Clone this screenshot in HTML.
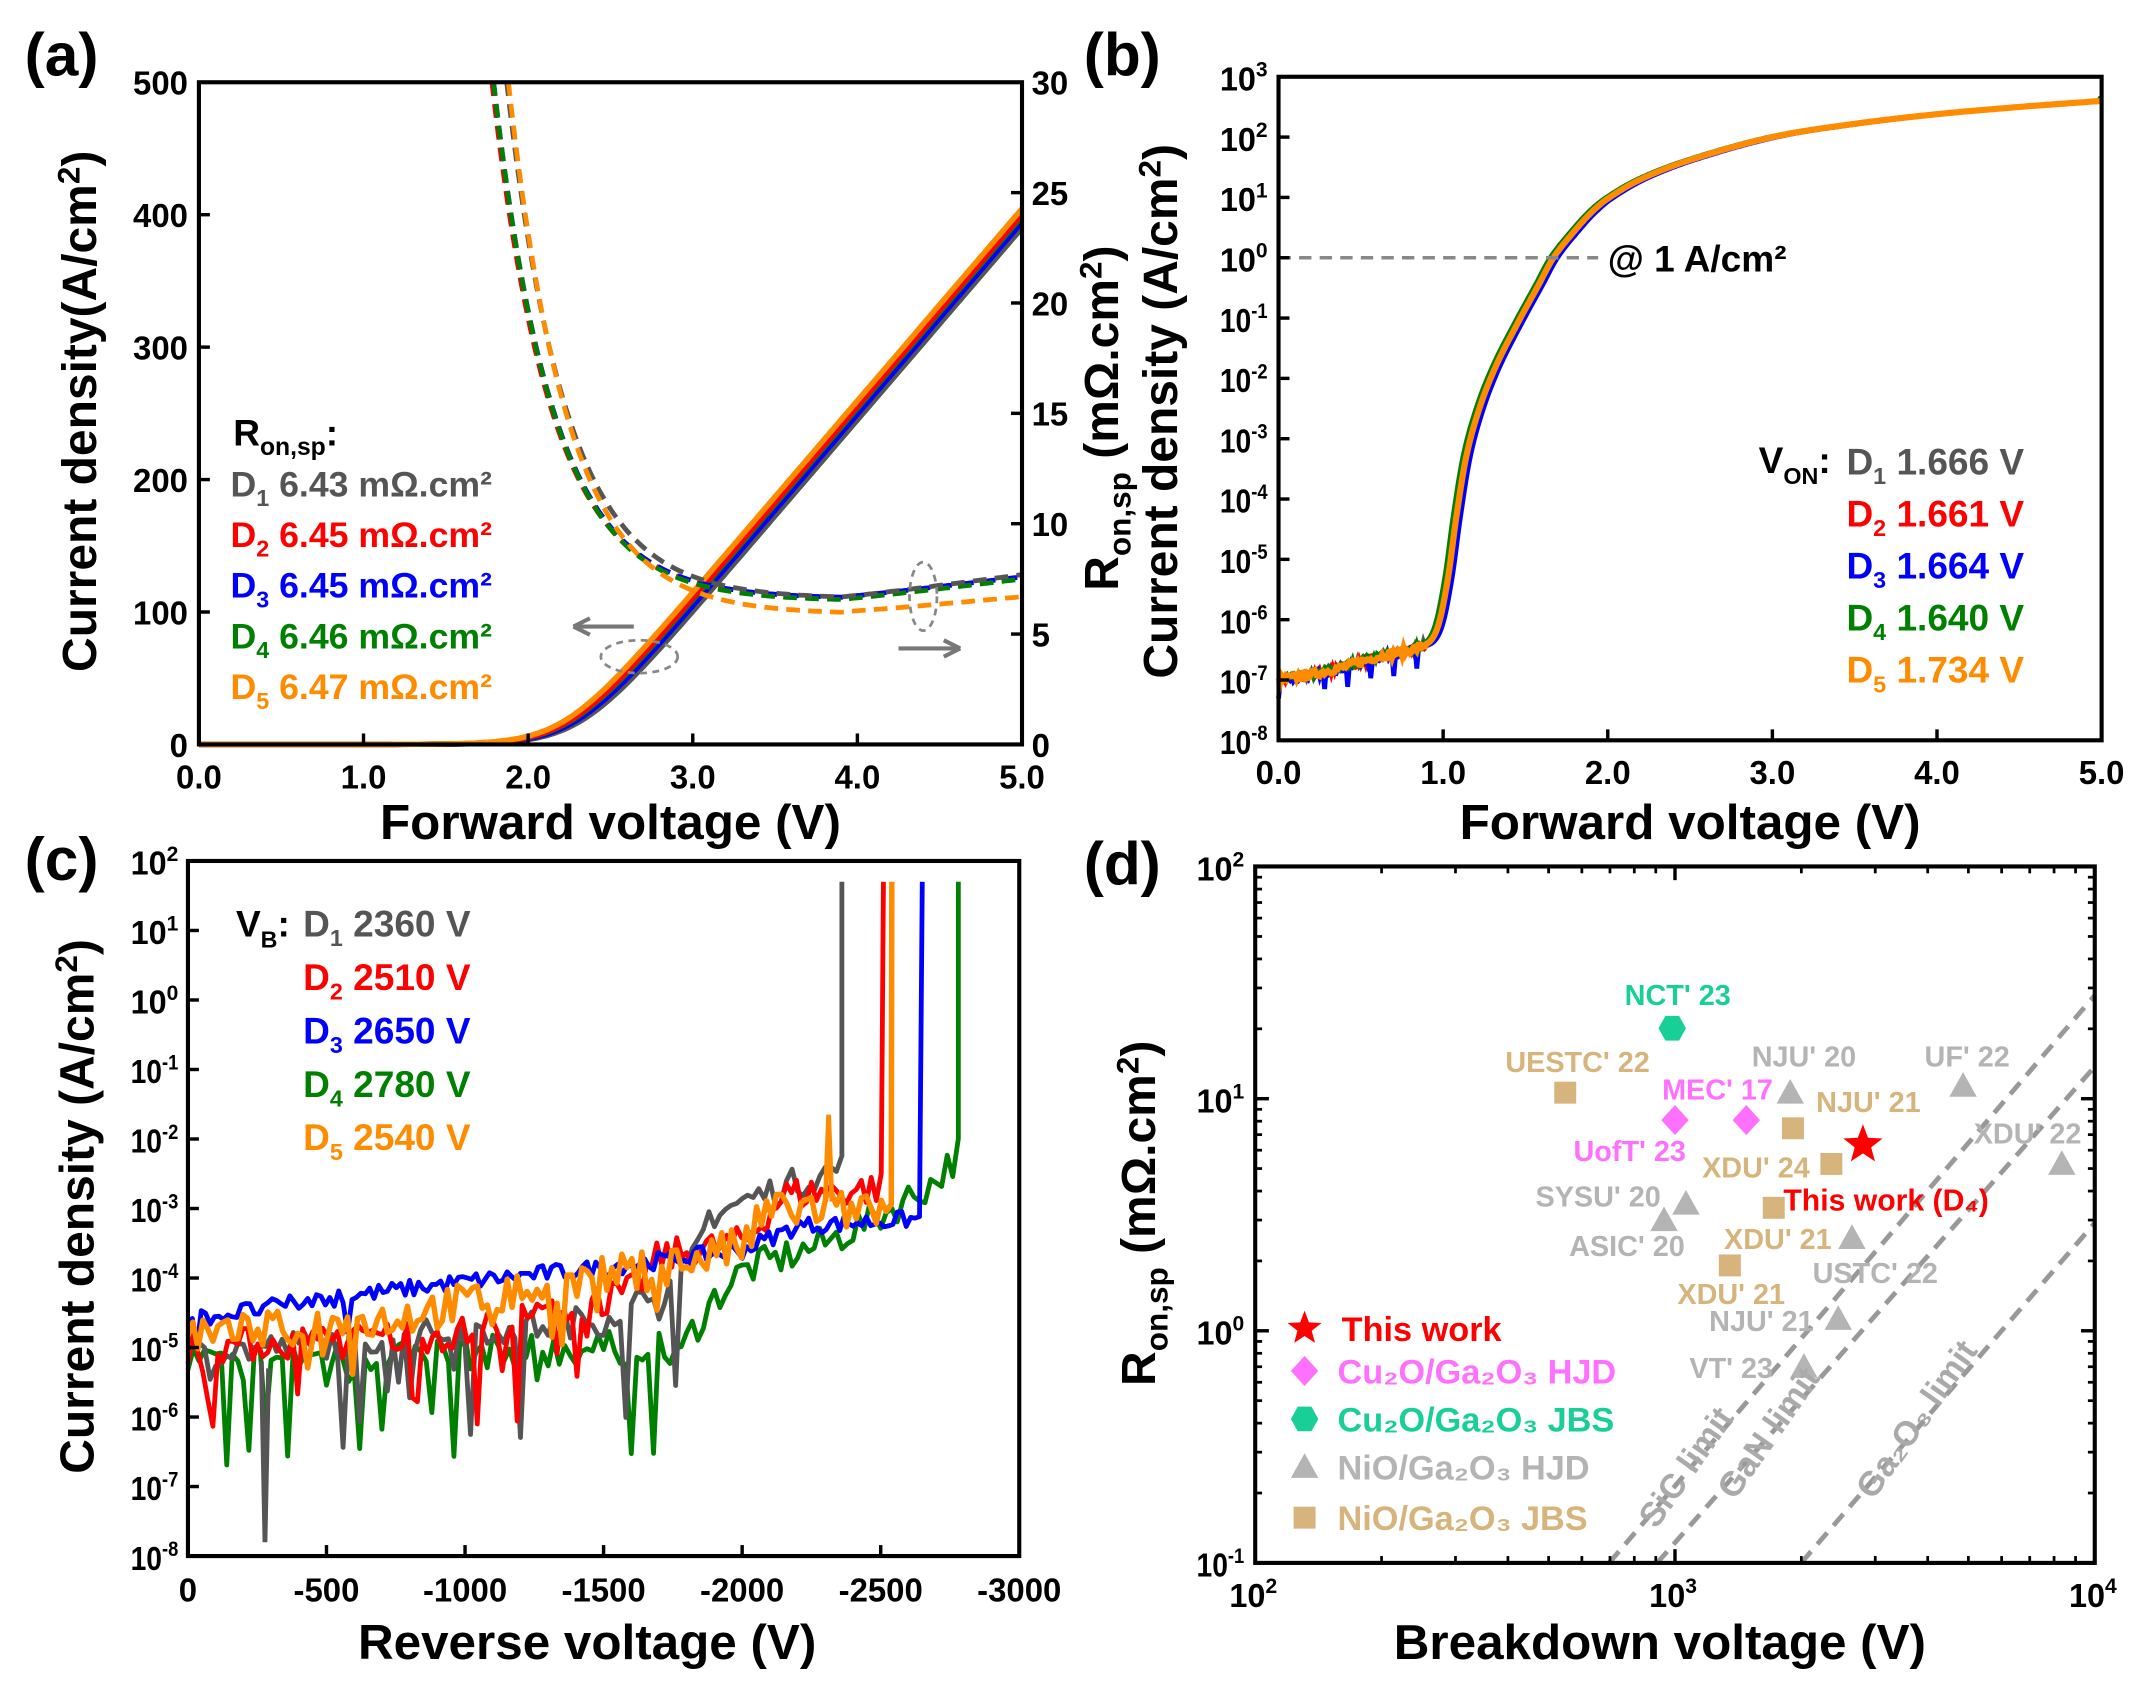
<!DOCTYPE html>
<html><head><meta charset="utf-8"><style>
html,body{margin:0;padding:0;background:#fff}
svg{display:block}
text{font-family:"Liberation Sans",Arial,sans-serif;font-weight:bold}
</style></head><body>
<svg id="s" width="2151" height="1700" viewBox="0 0 1568 1240" preserveAspectRatio="none" xmlns="http://www.w3.org/2000/svg">
<rect width="1568" height="1240" fill="#fff"/>
<g id="g"></g>
</svg>
<script>
const g=document.getElementById('g');
let out='';
function add(s){out+=s;}
const C={gray:'#555555',red:'#ff0000',blue:'#0000ff',green:'#008000',orange:'#ff8c00'};
function pathD(pts){return 'M'+pts.map(p=>p[0].toFixed(1)+','+p[1].toFixed(1)).join('L');}
function txt(x,y,s,sz,fill,anchor,extra){add(`<text x="${x}" y="${y}" font-size="${sz}" fill="${fill||'#000'}" text-anchor="${anchor||'start'}" ${extra||''}>${s}</text>`);}
function pow(b,e,x,y,sz,anchor){add(`<text x="${x}" y="${y}" font-size="${sz}" text-anchor="${anchor||'end'}" textLength="${sz*1.45}" lengthAdjust="spacingAndGlyphs">${b}<tspan dy="-${sz*0.42}" font-size="${sz*0.65}">${e}</tspan></text>`);}
let seed=7;function rnd(){seed=(seed*16807)%2147483647;return seed/2147483647;}

/* ---------- Panel (a) ---------- */
const ax0=145,ax1=745,ay0=60,ay1=543;
const AX=v=>ax0+v*120, AYL=j=>ay1-j*0.966, AYR=r=>ay1-r*16.1;
const solid=[['gray',2.31],['blue',2.28],['green',2.25],['red',2.24],['orange',2.21]];
function sp(x){return Math.log(1+Math.exp(x));}
solid.forEach(([c,v0])=>{let p=[];for(let v=0;v<=5.0001;v+=0.02){let j=145*0.17*sp((v-v0)/0.17);p.push([AX(v),AYL(Math.min(j,500))]);}add(`<path d="${pathD(p)}" fill="none" stroke="${C[c]}" stroke-width="4"/>`);});
const dashed=[['red',1.78,6.6,0],['blue',1.79,6.6,0],['green',1.79,6.5,0],['gray',1.87,6.6,0.1],['orange',1.88,5.9,-0.2]];
dashed.forEach(([c,v0,base,off])=>{let p=[];for(let v=v0;v<=5.0001;v+=0.02){let dv=v-v0;let r=base+(30-base)*Math.exp(-dv/0.36)+0.9*Math.max(0,v-3.9)+off*Math.max(0,v-4);if(r>30)r=30;p.push([AX(v),AYR(r)]);}add(`<path d="${pathD(p)}" fill="none" stroke="${C[c]}" stroke-width="3.5" stroke-dasharray="10,6"/>`);});
add(`<rect x="${ax0}" y="${ay0}" width="600" height="483" fill="none" stroke="#000" stroke-width="3"/>`);
for(let i=0;i<=5;i++){let x=AX(i);add(`<line x1="${x}" y1="${ay1}" x2="${x}" y2="${ay1-8}" stroke="#000" stroke-width="2.5"/>`);txt(x,575,i.toFixed(1),24,'#000','middle');}
for(let i=0;i<=5;i++){let y=AYL(i*100);add(`<line x1="${ax0}" y1="${y}" x2="${ax0+8}" y2="${y}" stroke="#000" stroke-width="2.5"/>`);txt(137,y+9,i*100,24,'#000','end');}
for(let i=0;i<=6;i++){let y=AYR(i*5);add(`<line x1="${ax1}" y1="${y}" x2="${ax1-8}" y2="${y}" stroke="#000" stroke-width="2.5"/>`);txt(752,y+9,i*5,24,'#000','start');}
txt(445,612,'Forward voltage (V)',36,'#000','middle');
add(`<text transform="translate(70,300) rotate(-90)" font-size="35" text-anchor="middle">Current density(A/cm<tspan dy="-12" font-size="23">2</tspan><tspan dy="12">)</tspan></text>`);
add(`<text transform="translate(815,305) rotate(-90)" font-size="35" text-anchor="middle">R<tspan dy="9" font-size="23">on,sp</tspan><tspan dy="-9"> (mΩ.cm</tspan><tspan dy="-12" font-size="23">2</tspan><tspan dy="12">)</tspan></text>`);
add(`<text x="170" y="325" font-size="27">R<tspan dy="7" font-size="18">on,sp</tspan><tspan dy="-7">:</tspan></text>`);
[['gray','1','6.43'],['red','2','6.45'],['blue','3','6.45'],['green','4','6.46'],['orange','5','6.47']].forEach(([c,n,v],i)=>{let y=362+i*37;add(`<text x="168" y="${y}" font-size="26" fill="${C[c]}">D<tspan dy="7" font-size="17">${n}</tspan><tspan dy="-7"> ${v} mΩ.cm²</tspan></text>`);});
add(`<line x1="420" y1="457" x2="462" y2="457" stroke="#777" stroke-width="3"/><path d="M418,457 L430,451 M418,457 L430,463" stroke="#777" stroke-width="3" fill="none"/>`);
add(`<line x1="655" y1="473" x2="698" y2="473" stroke="#777" stroke-width="3"/><path d="M700,473 L688,467 M700,473 L688,479" stroke="#777" stroke-width="3" fill="none"/>`);
add(`<ellipse cx="466" cy="479" rx="28" ry="12" fill="none" stroke="#888" stroke-width="2" stroke-dasharray="5,4"/><ellipse cx="673" cy="435" rx="10" ry="25" fill="none" stroke="#888" stroke-width="2" stroke-dasharray="5,4"/>`);
txt(18,55,'(a)',44);

/* ---------- Panel (b) ---------- */
const bx0=932,bx1=1532,by0=56,by1=540;
const BX=v=>bx0+v*120, BY=l=>by1-(l+8)*44;
const bpts=[[-0.2,-7.1],[0,-7],[0.3,-6.85],[0.6,-6.62],[0.9,-6.4],[0.97,-6.1],[1.03,-5.3],[1.08,-4.3],[1.14,-3.3],[1.22,-2.5],[1.32,-1.8],[1.45,-1.1],[1.58,-0.45],[1.67,0],[1.8,0.45],[1.9,0.75],[2.0,0.98],[2.2,1.3],[2.5,1.62],[3.0,2.0],[3.5,2.22],[4.0,2.38],[4.5,2.5],[5.0,2.6],[5.2,2.64]];
function cr(pts,v){for(let i=1;i<pts.length-2;i++){if(v>=pts[i][0]&&v<=pts[i+1][0]){let p0=pts[i-1],p1=pts[i],p2=pts[i+1],p3=pts[i+2];let h=p2[0]-p1[0],t=(v-p1[0])/h;let m1=(p2[1]-p0[1])/(p2[0]-p0[0])*h,m2=(p3[1]-p1[1])/(p3[0]-p1[0])*h;let t2=t*t,t3=t2*t;return (2*t3-3*t2+1)*p1[1]+(t3-2*t2+t)*m1+(-2*t3+3*t2)*p2[1]+(t3-t2)*m2;}}return pts[pts.length-1][1];}
[['gray',0.0],['red',0.01],['blue',0.025],['green',-0.02],['orange',0.0]].forEach(([c,sh],k)=>{let p=[];for(let v=0;v<=5.0001;v+=0.01){let l=cr(bpts,Math.max(0,v-sh));if(v<0.9){l+=(rnd()-0.5)*0.12;if(c=='blue'&&((v*100|0)%14==0))l-=0.3;}p.push([BX(v),BY(l)]);}add(`<path d="${pathD(p)}" fill="none" stroke="${C[c]}" stroke-width="${c=='orange'?4.5:3.5}"/>`);});
add(`<line x1="${bx0}" y1="${BY(0)}" x2="1165" y2="${BY(0)}" stroke="#888" stroke-width="2.5" stroke-dasharray="9,6"/>`);
add(`<text x="1172" y="198" font-size="27">@ 1 A/cm²</text>`);
add(`<rect x="${bx0}" y="${by0}" width="600" height="484" fill="none" stroke="#000" stroke-width="3"/>`);
for(let i=0;i<=5;i++){let x=BX(i);add(`<line x1="${x}" y1="${by1}" x2="${x}" y2="${by1-8}" stroke="#000" stroke-width="2.5"/>`);txt(x,572,i.toFixed(1),24,'#000','middle');}
for(let e=-8;e<=3;e++){let y=BY(e);add(`<line x1="${bx0}" y1="${y}" x2="${bx0+8}" y2="${y}" stroke="#000" stroke-width="2.5"/>`);pow('10',e,924,y+10,24);}
txt(1232,612,'Forward voltage (V)',36,'#000','middle');
add(`<text transform="translate(858,300) rotate(-90)" font-size="35" text-anchor="middle">Current density (A/cm<tspan dy="-12" font-size="23">2</tspan><tspan dy="12">)</tspan></text>`);
add(`<text x="1282" y="345" font-size="27">V<tspan dy="8" font-size="17">ON</tspan><tspan dy="-8">:</tspan></text>`);
[['gray','1','1.666'],['red','2','1.661'],['blue','3','1.664'],['green','4','1.640'],['orange','5','1.734']].forEach(([c,n,v],i)=>{let y=346+i*38;add(`<text x="1346" y="${y}" font-size="27" fill="${C[c]}">D<tspan dy="7" font-size="17">${n}</tspan><tspan dy="-7"> ${v} V</tspan></text>`);});
txt(790,55,'(b)',44);

/* ---------- Panel (c) ---------- */
const cx0=137,cx1=743,cy0=628,cy1=1135;
const CX=v=>cx0+v*0.202, CY=l=>cy1-(l+8)*50.7;
function curveC(c,vb,base,noise,dip,w,st,dipEnd){let p=[];for(let v=0;v<=vb;v+=st||18){let l=base(v);let n=(rnd()-0.5)*noise;if(v<(dipEnd||9999)&&rnd()<dip[0])n-=rnd()*dip[1];p.push([CX(v),CY(Math.max(-7.8,l+n))]);}p.push([CX(vb),CY(1.7)]);add(`<path d="${pathD(p)}" fill="none" stroke="${C[c]}" stroke-width="${w||3.5}" stroke-linejoin="round"/>`);}
const lerp=(pts)=>v=>{for(let i=0;i<pts.length-1;i++)if(v>=pts[i][0]&&v<=pts[i+1][0]){let t=(v-pts[i][0])/(pts[i+1][0]-pts[i][0]);return pts[i][1]+t*(pts[i+1][1]-pts[i][1]);}return pts[pts.length-1][1];};
curveC('green',2780,lerp([[0,-5.2],[1600,-5.0],[1780,-5.0],[1900,-4.3],[2000,-3.9],[2300,-3.5],[2500,-3.1],[2700,-2.6],[2780,-2.2]]),0.5,[0.25,2.0],3.5,20,1800);
curveC('gray',2360,lerp([[0,-5.1],[1500,-4.6],[1800,-4.0],[1880,-3.1],[2000,-2.9],[2360,-2.4]]),0.45,[0.14,1.8],3.5,20,1800);
curveC('red',2510,lerp([[0,-5.0],[1000,-4.8],[1600,-4.2],[1700,-3.7],[2000,-3.5],[2150,-2.8],[2510,-2.7]]),0.5,[0.1,1.5],3.5,18,1500);
curveC('blue',2650,lerp([[0,-4.6],[500,-4.3],[1000,-4.05],[1500,-3.85],[2000,-3.6],[2200,-3.25],[2640,-3.15]]),0.25,[0.02,1.0],3.5,16,600);
curveC('orange',2540,lerp([[0,-4.9],[700,-4.6],[1200,-4.2],[1700,-3.85],[2000,-3.55],[2100,-3.0],[2540,-3.05]]),0.6,[0.08,0.9],4,18);
add(`<path d="M${CX(2300)},${CY(-2.9)} L${CX(2312)},${CY(-1.65)} L${CX(2324)},${CY(-2.9)}" stroke="${C.orange}" stroke-width="3.5" fill="none"/>`);
add(`<path d="M${CX(265)},${CY(-5.2)} L${CX(278)},${CY(-7.8)} L${CX(291)},${CY(-5.3)}" stroke="${C.gray}" stroke-width="3.5" fill="none"/>`);
add(`<rect x="${cx0}" y="${cy0}" width="606" height="507" fill="none" stroke="#000" stroke-width="3"/>`);
for(let i=0;i<=6;i++){let x=CX(i*500);add(`<line x1="${x}" y1="${cy1}" x2="${x}" y2="${cy1-8}" stroke="#000" stroke-width="2.5"/>`);txt(x,1168,i==0?'0':'-'+i*500,24,'#000','middle');}
for(let e=-8;e<=2;e++){let y=CY(e);add(`<line x1="${cx0}" y1="${y}" x2="${cx0+8}" y2="${y}" stroke="#000" stroke-width="2.5"/>`);pow('10',e,130,y+10,24);}
txt(428,1210,'Reverse voltage (V)',36,'#000','middle');
add(`<text transform="translate(68,880) rotate(-90)" font-size="35" text-anchor="middle">Current density  (A/cm<tspan dy="-12" font-size="23">2</tspan><tspan dy="12">)</tspan></text>`);
add(`<text x="172" y="683" font-size="27">V<tspan dy="8" font-size="17">B</tspan><tspan dy="-8">:</tspan></text>`);
[['gray','1','2360'],['red','2','2510'],['blue','3','2650'],['green','4','2780'],['orange','5','2540']].forEach(([c,n,v],i)=>{let y=683+i*39;add(`<text x="221" y="${y}" font-size="27" fill="${C[c]}">D<tspan dy="7" font-size="17">${n}</tspan><tspan dy="-7">  ${v} V</tspan></text>`);});
txt(18,642,'(c)',44);

/* ---------- Panel (d) ---------- */
const dx0=915,dx1=1527,dy0=632,dy1=1140;
const DX=l=>dx0+(l-2)*306, DY=l=>dy1-(l+1)*169.3;
add(`<defs><clipPath id="cd"><rect x="${dx0}" y="${dy0}" width="612" height="508"/></clipPath></defs>`);
[[1173,726],[1208,778],[1313,892]].forEach(([x,yr])=>{add(`<line x1="${x}" y1="${dy1}" x2="${dx1}" y2="${yr}" stroke="#999" stroke-width="3.5" stroke-dasharray="11,7" clip-path="url(#cd)"/>`);});
add(`<rect x="${dx0}" y="${dy0}" width="612" height="508" fill="none" stroke="#000" stroke-width="3"/>`);
for(let d=2;d<=4;d++){let x=DX(d);add(`<line x1="${x}" y1="${dy1}" x2="${x}" y2="${dy1-10}" stroke="#000" stroke-width="2.5"/><line x1="${x}" y1="${dy0}" x2="${x}" y2="${dy0+10}" stroke="#000" stroke-width="2.5"/>`);pow('10',d,x+16,1172,24);if(d<4)for(let m=2;m<10;m++){let xm=DX(d+Math.log10(m));add(`<line x1="${xm}" y1="${dy1}" x2="${xm}" y2="${dy1-5}" stroke="#000" stroke-width="2"/><line x1="${xm}" y1="${dy0}" x2="${xm}" y2="${dy0+5}" stroke="#000" stroke-width="2"/>`);}}
for(let d=-1;d<=2;d++){let y=DY(d);add(`<line x1="${dx0}" y1="${y}" x2="${dx0+10}" y2="${y}" stroke="#000" stroke-width="2.5"/><line x1="${dx1}" y1="${y}" x2="${dx1-10}" y2="${y}" stroke="#000" stroke-width="2.5"/>`);pow('10',d,907,y+10,24);if(d<2)for(let m=2;m<10;m++){let ym=DY(d+Math.log10(m));add(`<line x1="${dx0}" y1="${ym}" x2="${dx0+5}" y2="${ym}" stroke="#000" stroke-width="2"/><line x1="${dx1}" y1="${ym}" x2="${dx1-5}" y2="${ym}" stroke="#000" stroke-width="2"/>`);}}
txt(1210,1210,'Breakdown voltage (V)',36,'#000','middle');
add(`<text transform="translate(842,885) rotate(-90)" font-size="35" text-anchor="middle">R<tspan dy="9" font-size="23">on,sp</tspan><tspan dy="-9">  (mΩ.cm</tspan><tspan dy="-12" font-size="23">2</tspan><tspan dy="12">)</tspan></text>`);
const GR='#b4b4b4',TAN='#d6b47c',PK='#ff70ff',TL='#18cf98';
function tri(x,y,c){add(`<path d="M${x},${y-10} L${x+10},${y+8} L${x-10},${y+8}Z" fill="${c}"/>`);}
function sq(x,y,c){add(`<rect x="${x-8}" y="${y-8}" width="16" height="16" fill="${c}"/>`);}
function dia(x,y,c){add(`<path d="M${x},${y-11} L${x+10},${y} L${x},${y+11} L${x-10},${y}Z" fill="${c}"/>`);}
function hex(x,y,c){add(`<path d="M${x-5},${y-9} L${x+5},${y-9} L${x+10},${y} L${x+5},${y+9} L${x-5},${y+9} L${x-10},${y}Z" fill="${c}"/>`);}
function star(x,y,r,c){let p=[];for(let i=0;i<10;i++){let a=-Math.PI/2+i*Math.PI/5,rr=i%2?r*0.42:r;p.push([x+rr*Math.cos(a),y+rr*Math.sin(a)]);}add(`<path d="${pathD(p)}Z" fill="${c}"/>`);}
hex(1219,750,TL);sq(1141,797,TAN);dia(1221,817,PK);dia(1273,817,PK);tri(1305,797,GR);tri(1431,792,GR);sq(1307,823,TAN);tri(1503,849,GR);sq(1335,849,TAN);tri(1229,878,GR);tri(1213,890,GR);sq(1293,881,TAN);tri(1350,903,GR);sq(1261,923,TAN);tri(1340,962,GR);tri(1315,997,GR);star(1358,835,15,'#ff0000');
const L=(x,y,s,c)=>txt(x,y+8,s,21,c,'middle');
L(1223,725,"NCT' 23",TL);L(1150,774,"UESTC' 22",TAN);L(1252,794,"MEC' 17",PK);L(1315,770,"NJU' 20",GR);L(1434,770,"UF' 22",GR);L(1362,803,"NJU' 21",TAN);L(1478,826,"XDU' 22",GR);L(1188,839,"UofT' 23",PK);L(1280,851,"XDU' 24",TAN);L(1165,872,"SYSU' 20",GR);L(1186,908,"ASIC' 20",GR);L(1296,903,"XDU' 21",TAN);L(1262,943,"XDU' 21",TAN);L(1367,928,"USTC' 22",GR);L(1284,963,"NJU' 21",GR);L(1262,997,"VT' 23",GR);
txt(1300,883,'This work (D₄)',22,'#ff0000','start');
star(951,969,13,'#ff0000');txt(978,978,'This work',25,'#ff0000');
dia(951,1000,PK);txt(975,1009,'Cu₂O/Ga₂O₃ HJD',25,PK);
hex(951,1035,TL);txt(975,1044,'Cu₂O/Ga₂O₃ JBS',25,TL);
tri(951,1070,GR);txt(975,1079,'NiO/Ga₂O₃ HJD',25,GR);
sq(951,1107,TAN);txt(975,1116,'NiO/Ga₂O₃ JBS',25,TAN);
add(`<text transform="translate(1236,1075) rotate(-55)" font-size="25" fill="#aaa" text-anchor="middle">SiC limit</text>`);
add(`<text transform="translate(1296,1050) rotate(-55)" font-size="25" fill="#aaa" text-anchor="middle">GaN limit</text>`);
add(`<text transform="translate(1404,1040) rotate(-55)" font-size="25" fill="#aaa" text-anchor="middle">Ga₂O₃ limit</text>`);
txt(790,645,'(d)',44);
g.innerHTML=out;
</script>
</body></html>
